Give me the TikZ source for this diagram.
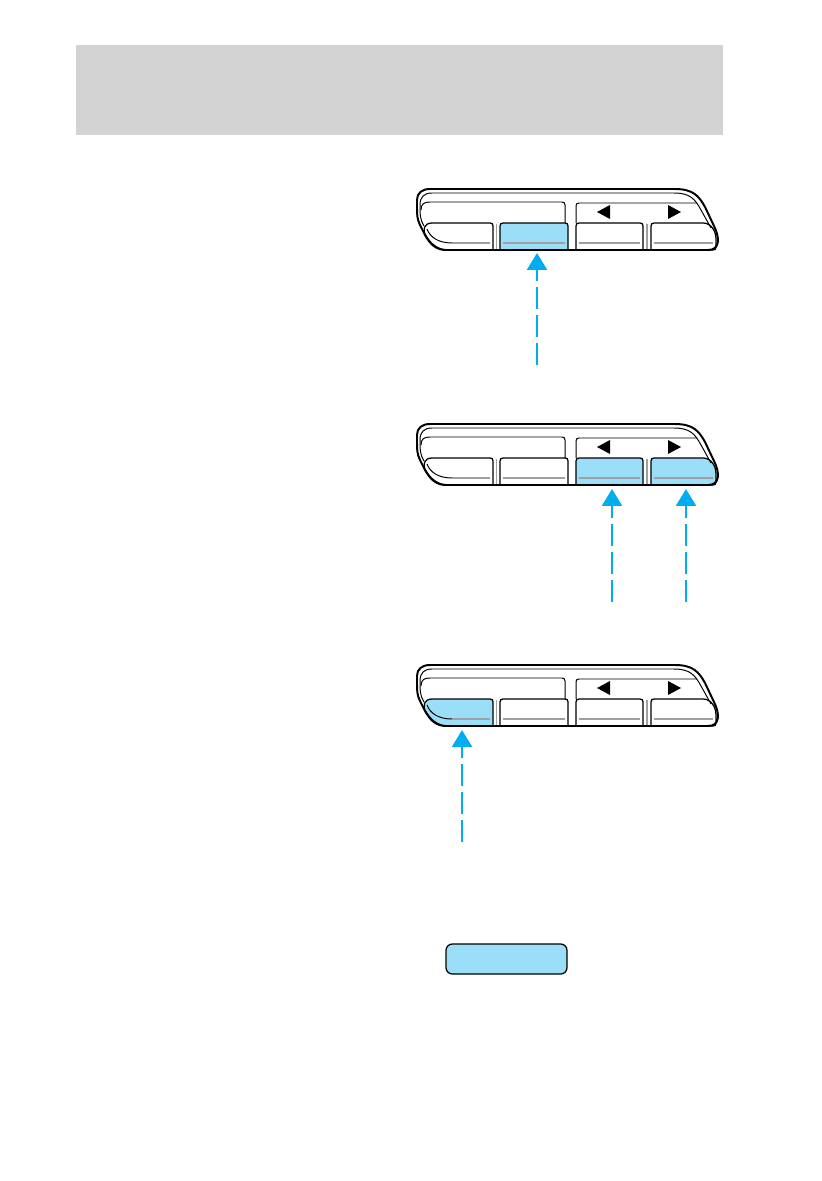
\documentclass[tikz,border=0pt]{standalone}
\usepackage{xcolor}
\usepackage{tikz}
\usetikzlibrary{arrows.meta}
\definecolor{keyBlue}{HTML}{9BDEF8}
\definecolor{pushCyan}{HTML}{00AEEF}
\definecolor{headerGray}{HTML}{D3D3D3}
\definecolor{faceGray}{HTML}{A0A0A0}
\tikzset{
    body/.style={line width=1.4pt, line join=round},
    trim/.style={line width=0.7pt},
    keyline/.style={line width=0.9pt, line join=round},
    faceline/.style={faceGray, line width=1pt},
    pusharrow/.style={pushCyan, line width=2.1pt, dash pattern=on 15.5pt off 4.5pt,
        -{Triangle[width=14pt, length=12pt]}},
    pics/radiopanel/.style n args={4}{code={
        \draw[keyline, fill=#1] (432,223) -- (490,223) .. controls (492,223) and (493,224) .. (493,226)
            -- (493,250) -- (448,250) .. controls (438,250) and (431,244) .. (426,236)
            .. controls (422,230) and (424,223) .. (432,223) -- cycle;
        \draw[keyline, fill=#2] (500,250) -- (500,226) .. controls (500,224) and (501,223) .. (503,223)
            -- (565,223) .. controls (567,223) and (568,224) .. (568,226) -- (568,250) -- cycle;
        \draw[keyline, fill=#3] (576,250) -- (576,226) .. controls (576,224) and (577,223) .. (579,223)
            -- (640,223) .. controls (642,223) and (643,224) .. (643,226) -- (643,250) -- cycle;
        \draw[keyline, fill=#4] (651,250) -- (651,226) .. controls (651,224) and (652,223) .. (654,223)
            -- (703,223) .. controls (711,223) and (716,231) .. (716,239)
            -- (716,247) .. controls (716,249) and (715,250) .. (713,250) -- cycle;
        \draw[trim] (427,229) .. controls (430,237) and (438,243) .. (452,243);
        \draw[faceline] (452,243) -- (490,243) (503,243) -- (565,243) (579,243) -- (640,243) (654,243) -- (713,243);
        \draw[faceline] (496.5,224) -- (496.5,250) (647,224) -- (647,250);
        \draw[trim] (424,226) .. controls (420,220) and (420,214) .. (420,205)
            .. controls (420,197) and (424,193) .. (432,193) -- (674,193)
            .. controls (690,193) and (695,199) .. (701,210) -- (711,228);
        \draw[trim] (421,210) .. controls (421,204) and (424,202) .. (430,202) -- (562,202)
            .. controls (564,202) and (565,203) .. (565,205) -- (565,223);
        \draw[trim] (576,223) -- (576,206) .. controls (576,204) and (577,203) .. (579,203) -- (697,203);
        \fill (597,212) -- (610,205) -- (610,219) -- cycle;
        \fill (681,212) -- (668,205) -- (668,219) -- cycle;
        \draw[body] (430,189) -- (675,189) .. controls (693,189) and (699,196) .. (705,207)
            -- (714,226) .. controls (720,238) and (720,250) .. (708,250) -- (446,250)
            .. controls (436,250) and (430,244) .. (425,235) -- (420,225)
            .. controls (417,219) and (417,214) .. (417,208) -- (417,200)
            .. controls (417,193) and (422,189) .. (430,189) -- cycle;
    }}
}

\begin{document}
\begin{tikzpicture}[x=0.025cm, y=-0.025cm]
    \useasboundingbox (0,0) rectangle (821,1181);
    \fill[headerGray] (76,45) rectangle (723,135);

    \pic (panelA) at (0,0) {radiopanel={white}{keyBlue}{white}{white}};
    \pic (panelB) at (0,235) {radiopanel={white}{white}{keyBlue}{keyBlue}};
    \pic (panelC) at (0,476) {radiopanel={keyBlue}{white}{white}{white}};

    \coordinate (tipA) at (537,253);
    \coordinate (tailA) at (537,365);
    \coordinate (tipB) at (612,489);
    \coordinate (tailB) at (612,602);
    \coordinate (tipC) at (686,489);
    \coordinate (tailC) at (686,602);
    \coordinate (tipD) at (462,730);
    \coordinate (tailD) at (462,842);
    \draw[pusharrow] (tailA) -- (tipA);
    \draw[pusharrow] (tailB) -- (tipB);
    \draw[pusharrow] (tailC) -- (tipC);
    \draw[pusharrow] (tailD) -- (tipD);

    \draw[keyline, fill=keyBlue, rounded corners=4.5pt] (446,944) rectangle (567,974);
\end{tikzpicture}
\end{document}
